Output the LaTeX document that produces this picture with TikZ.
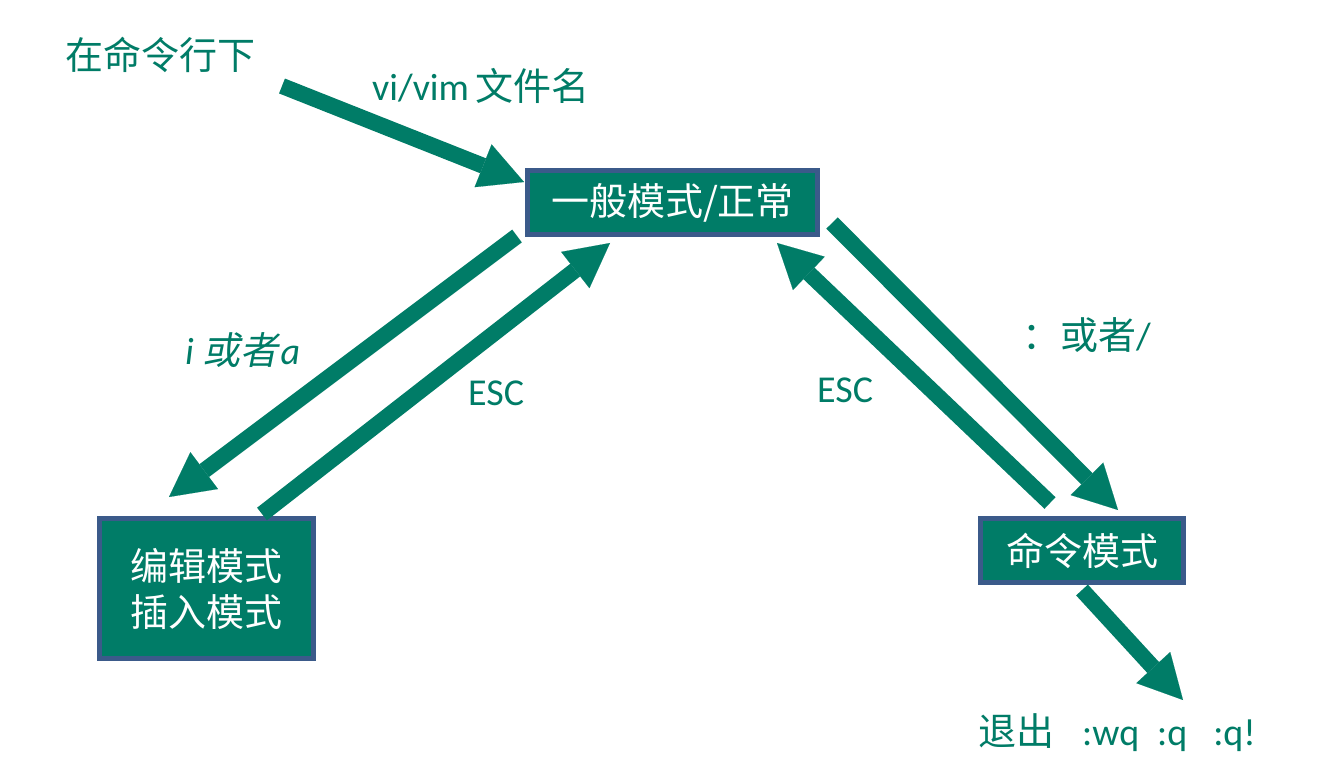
\documentclass[tikz,border=0pt]{standalone}
\usepackage{fontspec}
\setmainfont{Carlito}
\newfontfamily\cjk{Noto Sans CJK SC}
\newfontfamily\cjkit[FakeSlant=0.2]{Noto Sans CJK SC}
\usetikzlibrary{arrows.meta}
\definecolor{vteal}{HTML}{007C67}
\definecolor{vborder}{HTML}{3B5A8A}
\begin{document}
\begin{tikzpicture}[x=1pt,y=-1pt,
  modebox/.style={draw=vborder, line width=5pt, fill=vteal, text=white,
    font=\cjk\fontsize{38}{46}\selectfont, inner sep=0pt, align=center},
  bigarrow/.style={draw=vteal, line width=16pt, line cap=butt,
    -{Triangle[length=44pt,width=46pt,line width=0.1pt]}},
  lbl/.style={text=vteal, font=\fontsize{38}{46}\selectfont, inner sep=0pt}]
\fill[white] (0,0) rectangle (1335,767);
\useasboundingbox (0,0) rectangle (1335,767);

% mode boxes
\node[modebox, minimum width=290pt, minimum height=64pt] (normal) at (672.5,202.5) {一般模式/正常};
\node[modebox, minimum width=214pt, minimum height=140pt] (edit) at (206.5,588.5) {编辑模式\\插入模式};
\node[modebox, minimum width=203pt, minimum height=64pt] (cmd) at (1082,550.5) {命令模式};

% labels
\node[lbl, font=\cjk\fontsize{38}{46}\selectfont, anchor=west] (cli) at (65,55) {在命令行下};
\node[lbl, anchor=west] (open) at (372,86) {vi/vim\hspace{6pt}{\cjk 文件名}};
\node[lbl, anchor=west] (ia) at (185,350) {\itshape i {\cjkit 或者}\kern2pt a};
\node[lbl, anchor=west] (esc1) at (468,393) {ESC};
\node[lbl, anchor=west] (esc2) at (817,390) {ESC};
\node[lbl, anchor=west] (colon) at (1022,335) {{\cjk ：或者}/};
\node[lbl, anchor=west] (quit) at (978,733) {{\cjk 退出}\hspace{28pt}:wq\hspace{18pt}:q\hspace{26pt}:q!};

% arrow end points
\coordinate (a1s) at (282,86);   \coordinate (a1e) at (524,182);
\coordinate (a2s) at (517,236);  \coordinate (a2e) at (169,497);
\coordinate (a3s) at (262,514);  \coordinate (a3e) at (610,243);
\coordinate (a4s) at (832,223);  \coordinate (a4e) at (1118,510);
\coordinate (a5s) at (1050,503); \coordinate (a5e) at (777,243);
\coordinate (a6s) at (1082,590); \coordinate (a6e) at (1183,700);

% arrows
\draw[bigarrow] (a1s) -- (a1e);
\draw[bigarrow] (a2s) -- (a2e);
\draw[bigarrow] (a3s) -- (a3e);
\draw[bigarrow] (a4s) -- (a4e);
\draw[bigarrow] (a5s) -- (a5e);
\draw[bigarrow] (a6s) -- (a6e);
\end{tikzpicture}
\end{document}
